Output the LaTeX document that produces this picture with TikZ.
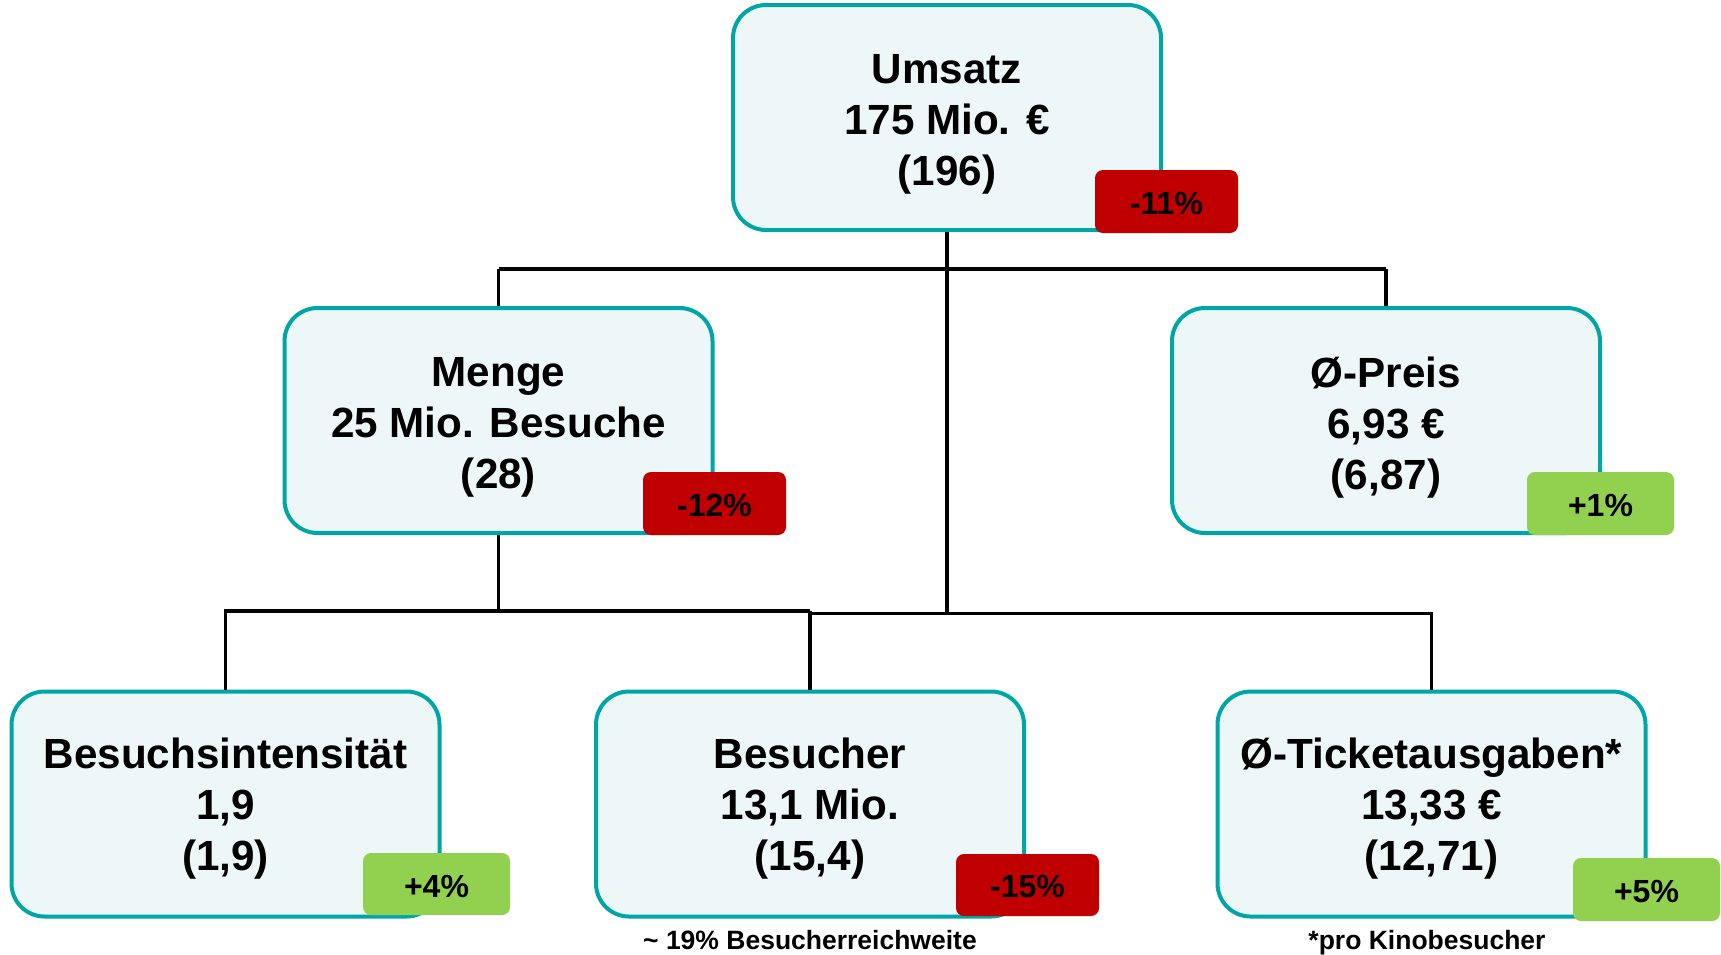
\documentclass[tikz,border=0pt]{standalone}
\usepackage{fontspec}
\setmainfont{Liberation Sans}
\definecolor{teal1}{HTML}{00A6A6}
\definecolor{boxfill}{HTML}{EEF7F7}
\definecolor{badred}{HTML}{C00000}
\definecolor{goodgreen}{HTML}{92D050}
\tikzset{
  kpi/.style={draw=teal1, fill=boxfill, line width=4pt, rounded corners=33pt,
    minimum width=428pt, minimum height=225pt, inner sep=0pt},
  kpitext/.style={align=center, inner sep=0pt,
    font=\fontsize{42.2}{51}\selectfont\bfseries},
  badge/.style={rounded corners=8pt, minimum height=63pt, minimum width=145pt, inner sep=0pt,
    font=\fontsize{32}{36}\selectfont\bfseries},
  badgetext/.style={inner sep=0pt, font=\fontsize{32}{36}\selectfont\bfseries},
  redbadge/.style={badge, fill=badred},
  greenbadge/.style={badge, fill=goodgreen},
  conn/.style={line width=3.3pt, draw=black},
  foot/.style={font=\fontsize{26.5}{30}\selectfont\bfseries, anchor=base}
}
\begin{document}
\begin{tikzpicture}[x=1pt,y=-1pt]
\useasboundingbox (0,0) rectangle (1721,954);
% boxes
\node[kpi] (ums) at (947,117.5) {};
\node[kpi] (menge) at (498.5,420.5) {};
\node[kpi] (preis) at (1386,420.5) {};
\node[kpi] (intens) at (225.5,804) {};
\node[kpi] (besucher) at (810,804) {};
\node[kpi] (ticket) at (1431.5,804) {};
\node[kpitext, yshift=-7pt] (tums) at (ums) {Umsatz\\175 Mio. €\\(196)};
\node[kpitext, yshift=-7pt] (tmenge) at (menge) {Menge\\25 Mio. Besuche\\(28)};
\node[kpitext, yshift=-7pt] (tpreis) at (preis) {Ø-Preis\\6,93 €\\(6,87)};
\node[kpitext, yshift=-5pt] (tintens) at (intens) {Besuchsintensität\\1,9\\(1,9)};
\node[kpitext, yshift=-5pt] (tbesucher) at (besucher) {Besucher\\13,1 Mio.\\(15,4)};
\node[kpitext, yshift=-5pt] (tticket) at (ticket) {Ø-Ticketausgaben*\\13,33 €\\(12,71)};
% connectors
\coordinate (hTop) at (947,269);
\coordinate (hMid) at (947,613.5);
\coordinate (hLeft) at (0,611);
\draw[conn] (ums.south) -- (hMid);
\draw[conn] (menge.north |- hTop) -- (preis.north |- hTop);
\draw[conn] (menge.north |- hTop) -- (menge.north);
\draw[conn] (preis.north |- hTop) -- (preis.north);
\draw[conn] (menge.south) -- (menge.south |- hLeft) -| (intens.north);
\draw[conn] (menge.south |- hLeft) -- (besucher.north |- hLeft);
\draw[conn] (besucher.north |- hMid) -- (ticket.north |- hMid) -- (ticket.north);
\draw[conn] (besucher.north |- hLeft) -- (besucher.north);
% badges
\node[redbadge, minimum width=143pt] (b1) at (1166.5,201.5) {};
\node[redbadge, minimum width=143pt] (b2) at (714.5,503.5) {};
\node[greenbadge, minimum width=147pt] (b3) at (1600.5,503.5) {};
\node[greenbadge, minimum width=147pt, minimum height=62pt] (b4) at (436.5,884) {};
\node[redbadge, minimum width=143pt, minimum height=62pt] (b5) at (1027.5,885) {};
\node[greenbadge, minimum width=147pt] (b6) at (1646.5,889.5) {};
\node[badgetext, yshift=-2pt] (tb1) at (b1) {-11\%};
\node[badgetext, yshift=-2pt] (tb2) at (b2) {-12\%};
\node[badgetext, yshift=-2pt] (tb3) at (b3) {+1\%};
\node[badgetext, yshift=-2pt] (tb4) at (b4) {+4\%};
\node[badgetext, yshift=-2pt] (tb5) at (b5) {-15\%};
\node[badgetext, yshift=-2pt] (tb6) at (b6) {+5\%};
% footnotes
\node[foot] (f1) at (810,949) {\textasciitilde{} 19\% Besucherreichweite};
\node[foot] (f2) at (1427,949) {*pro Kinobesucher};
\end{tikzpicture}
\end{document}
